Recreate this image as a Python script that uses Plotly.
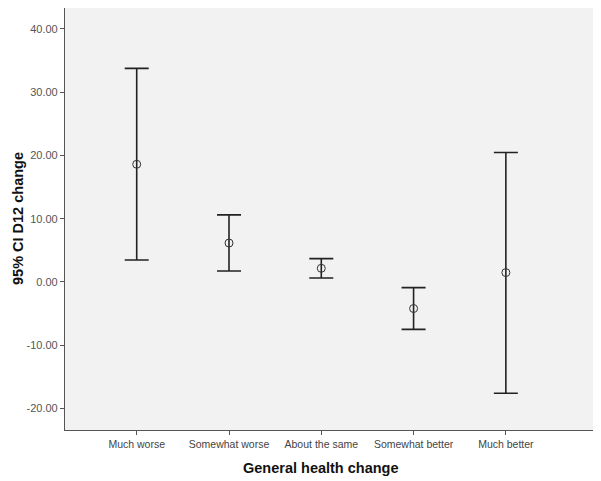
import plotly.graph_objects as go

categories = ["Much worse", "Somewhat worse", "About the same", "Somewhat better", "Much better"]
means = [18.6, 6.15, 2.16, -4.2, 1.48]
lower = [3.47, 1.74, 0.63, -7.5, -17.6]
upper = [33.75, 10.6, 3.69, -0.89, 20.45]
y_ticks = [-20, -10, 0, 10, 20, 30, 40]

x_idx = list(range(len(categories)))
err_plus = [u - m for u, m in zip(upper, means)]
err_minus = [m - l for m, l in zip(means, lower)]
y_ticktext = ["%.2f" % v for v in y_ticks]

fig = go.Figure()
fig.add_trace(go.Scatter(
    x=x_idx, y=means, mode="markers",
    marker=dict(symbol="circle-open", size=8, color="#333333", line=dict(width=1)),
    error_y=dict(type="data", symmetric=False, array=err_plus, arrayminus=err_minus,
                 color="#222222", thickness=1.6, width=12),
    showlegend=False, hoverinfo="skip",
))

# page body has an 8px default margin, so the figure is sized to fit inside it
font_family = "Arial, Liberation Sans, sans-serif"
fig.update_layout(
    width=593, height=473,
    margin=dict(l=57, r=7, t=0, b=51, autoexpand=False),
    paper_bgcolor="white", plot_bgcolor="#f2f2f2",
    font=dict(family=font_family, size=11, color="#444444"),
    xaxis=dict(
        range=[-0.777, 4.955], tickvals=x_idx, ticktext=categories,
        showgrid=False, zeroline=False, showline=True, mirror=True, automargin=False,
        linecolor="#555555", linewidth=1.2, ticks="outside", ticklen=4,
        tickcolor="#555555", tickfont=dict(size=10.5, color="#444444"),
    ),
    yaxis=dict(
        range=[-23.4, 43.3], tickvals=y_ticks, ticktext=y_ticktext,
        showgrid=False, zeroline=False, showline=True, mirror=True, automargin=False,
        linecolor="#555555", linewidth=1.2, ticks="outside", ticklen=4,
        tickcolor="#555555", tickfont=dict(size=11, color="#555555"),
    ),
    annotations=[
        dict(text="<b>General health change</b>", xref="x", yref="paper", x=2, y=0,
             yshift=-38, xanchor="center", yanchor="middle", showarrow=False,
             font=dict(size=14.5, color="#111111")),
        dict(text="<b>95% CI D12 change</b>", xref="paper", yref="paper", x=0, y=0.5,
             xshift=-47, xanchor="center", yanchor="middle", textangle=-90, showarrow=False,
             font=dict(size=14.5, color="#111111")),
    ],
)

fig.write_html("out.html")
